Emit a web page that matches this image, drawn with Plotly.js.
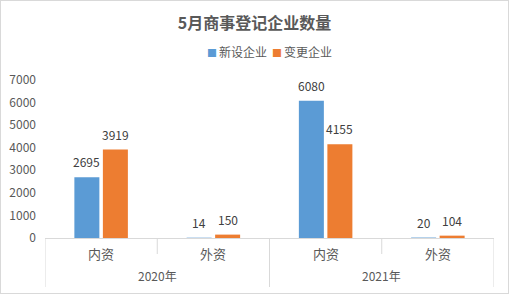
<!DOCTYPE html>
<html><head><meta charset="utf-8">
<script src="https://cdn.plot.ly/plotly-3.0.1.min.js"></script>
<style>
html,body{margin:0;padding:0;background:#fff;}
#chart{width:509px;height:294px;box-sizing:border-box;border:1px solid #d9d9d9;}
</style></head>
<body><div id="chart"></div>
<script>
const years = ["2020年","2020年","2021年","2021年"];
const types = ["内资","外资","内资","外资"];
const seriesNames = ["新设企业","变更企业"];
const seriesColors = ['#5b9bd5', '#ed7d31'];
const newCompanies = [2695, 14, 6080, 20];
const changedCompanies = [3919, 150, 4155, 104];
const yTicks = [0,1000,2000,3000,4000,5000,6000,7000];

const font = "'Noto Sans CJK SC', 'Microsoft YaHei', sans-serif";
const cats = years.map((y, i) => y + '·' + types[i]);
const margin = {l: 44, r: 14, t: 79, b: 55, pad: 0};
const plotH = 292 - margin.t - margin.b;
const bargap = 0.492, bargroupgap = 0.123;
const series = [newCompanies, changedCompanies];

const data = series.map((vals, s) => ({
  type: 'bar', name: seriesNames[s], x: cats, y: vals,
  marker: {color: seriesColors[s]},
  hoverinfo: 'skip', showlegend: false
}));

const legendText = seriesNames.map((n, i) =>
  `<span style="color:${seriesColors[i]};font-size:10px">■\u2009</span>${n}`).join('\u00a0\u2009');

const annotations = [{text: legendText, xref: 'paper', yref: 'paper', x: 0.5, xanchor: 'center',
                 y: 1, yanchor: 'middle', yshift: 29, showarrow: false,
                 font: {size: 12, color: '#595959', family: font}}];
// data labels above each bar (position = category index +/- quarter group width)
const nS = series.length;
series.forEach((vals, s) => vals.forEach((v, i) => {
  const off = (1 - bargap) * ((s + 0.5) / nS - 0.5);
  annotations.push({text: String(v), xref: 'x', yref: 'y', x: i + off, y: v,
    xanchor: 'center', yanchor: 'bottom', yshift: 5, showarrow: false,
    font: {size: 12, color: '#404040', family: font}});
}));
// inner category labels
types.forEach((t, i) => annotations.push({text: t, xref: 'x', yref: 'paper', x: i, y: 0,
  yanchor: 'middle', yshift: -15, showarrow: false, font: {size: 13, color: '#595959', family: font}}));
// outer group labels
const groups = [...new Set(years)];
groups.forEach(g => {
  const idx = years.map((y, i) => y === g ? i : null).filter(v => v !== null);
  const mid = (idx[0] + idx[idx.length - 1]) / 2;
  annotations.push({text: g, xref: 'x', yref: 'paper', x: mid, y: 0, yanchor: 'middle',
    yshift: -37, showarrow: false, font: {size: 12, color: '#595959', family: font}});
});
// dividers
const shapes = [];
for (let i = 0; i <= years.length; i++) {
  const outer = (i === 0 || i === years.length || years[i] !== years[i - 1]);
  shapes.push({type: 'line', xref: 'x', yref: 'paper', x0: i - 0.5, x1: i - 0.5,
    y0: 0, y1: -(outer ? 49 : 16) / plotH, line: {color: '#d9d9d9', width: 1}});
}

const layout = {
  width: 507, height: 292,
  margin: margin,
  paper_bgcolor: '#fff', plot_bgcolor: '#fff',
  font: {family: font, size: 12, color: '#595959'},
  title: {text: '<b>5月商事登记企业数量</b>', font: {size: 16, color: '#595959', family: font},
          x: 0.5, xanchor: 'center', y: 1 - 22/292, yanchor: 'middle', yref: 'container'},
  showlegend: false,
  annotations: annotations,
  shapes: shapes,
  barmode: 'group', bargap: bargap, bargroupgap: bargroupgap,
  xaxis: {type: 'category', range: [-0.5, years.length - 0.5], showline: true, linecolor: '#d9d9d9', linewidth: 1,
          showticklabels: false, ticks: '', showgrid: false, zeroline: false},
  yaxis: {range: [0, 7000], tickvals: yTicks, ticktext: yTicks.map(String), showgrid: false,
          zeroline: false, showline: false, ticklabelstandoff: 8,
          tickfont: {size: 12, color: '#595959', family: font}}
};
Plotly.newPlot('chart', data, layout, {displayModeBar: false, staticPlot: true});
</script></body></html>
